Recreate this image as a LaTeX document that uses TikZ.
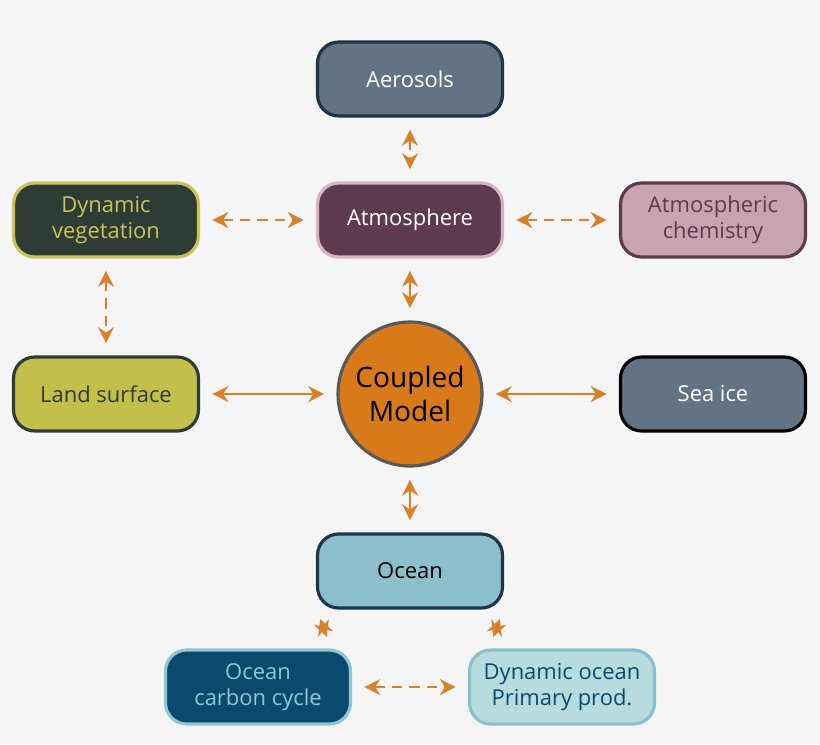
\documentclass[tikz,border=0pt]{standalone}
\usepackage{fontspec}
\setmainfont{Open Sans}
\usetikzlibrary{arrows.meta}
\definecolor{bg}{HTML}{F5F5F5}
\definecolor{slate}{HTML}{627385}
\definecolor{navy}{HTML}{1F3447}
\definecolor{plum}{HTML}{5E3A4E}
\definecolor{pinkline}{HTML}{D8B4C2}
\definecolor{chem}{HTML}{C8A4B0}
\definecolor{vegfill}{HTML}{2F3B35}
\definecolor{veg}{HTML}{C9C45A}
\definecolor{landfill}{HTML}{C3BF4A}
\definecolor{coupled}{HTML}{D97A1A}
\definecolor{oceanfill}{HTML}{8BBFCC}
\definecolor{carbon}{HTML}{0B4A6E}
\definecolor{carbonline}{HTML}{8FC6D4}
\definecolor{primfill}{HTML}{B8DBE0}
\definecolor{arr}{HTML}{D9802A}
\tikzset{
  box/.style={draw, line width=1.8pt, rounded corners=12pt, minimum width=3.7cm,
    minimum height=1.48cm, align=center, font=\fontsize{12.5}{15}\selectfont},
  link/.style={draw, arr, line width=1.6pt, {Stealth[length=9pt,width=9pt]}-{Stealth[length=9pt,width=9pt]}, shorten <=7pt, shorten >=7pt},
  dlink/.style={link, dash pattern=on 6pt off 4pt}
}
\begin{document}
\begin{tikzpicture}[x=0.02cm,y=-0.02cm]
    \fill[bg] (0,0) rectangle (820,744);
    \node [box, fill=slate, draw=navy, text=white] at (410,79) (aer) {Aerosols};
    \node [box, fill=plum, draw=pinkline, text=white] at (410,220) (atm) {Atmosphere};
    \node [box, fill=vegfill, draw=veg, text=veg] at (106,220) (veg) {Dynamic\\vegetation};
    \node [box, fill=chem, draw=plum, text=plum] at (713,220) (chem) {Atmospheric\\chemistry};
    \node [box, fill=landfill, draw=vegfill, text=vegfill] at (106,394) (land) {Land surface};
    \node [draw=gray!70!black, line width=1.8pt, circle, fill=coupled, minimum size=2.88cm, align=center,
        font=\fontsize{16}{19}\selectfont] at (410,394) (cm) {Coupled\\Model};
    \node [box, fill=slate, draw=black, text=white] at (713,394) (ice) {Sea ice};
    \node [box, fill=oceanfill, draw=navy, text=black] at (410,571) (ocean) {Ocean};
    \node [box, fill=carbon, draw=carbonline, text=carbonline] at (258,687) (occ) {Ocean\\carbon cycle};
    \node [box, fill=primfill, draw=oceanfill, text=carbon] at (562,687) (prim) {Dynamic ocean\\Primary prod.};
    \path [dlink] (aer) -- (atm);
    \path [dlink] (veg) -- (atm);
    \path [dlink] (atm) -- (chem);
    \path [dlink] (veg) -- (land);
    \path [link] (atm) -- (cm);
    \path [link] (land) -- (cm);
    \path [link] (cm) -- (ice);
    \path [link] (cm) -- (ocean);
    \path [dlink] (ocean.south west) ++(0,-2) -- ([xshift=-12pt]occ.north east);
    \path [dlink] (ocean.south east) ++(0,-2) -- ([xshift=12pt]prim.north west);
    \path [dlink] (occ) -- (prim);
\end{tikzpicture}
\end{document}
